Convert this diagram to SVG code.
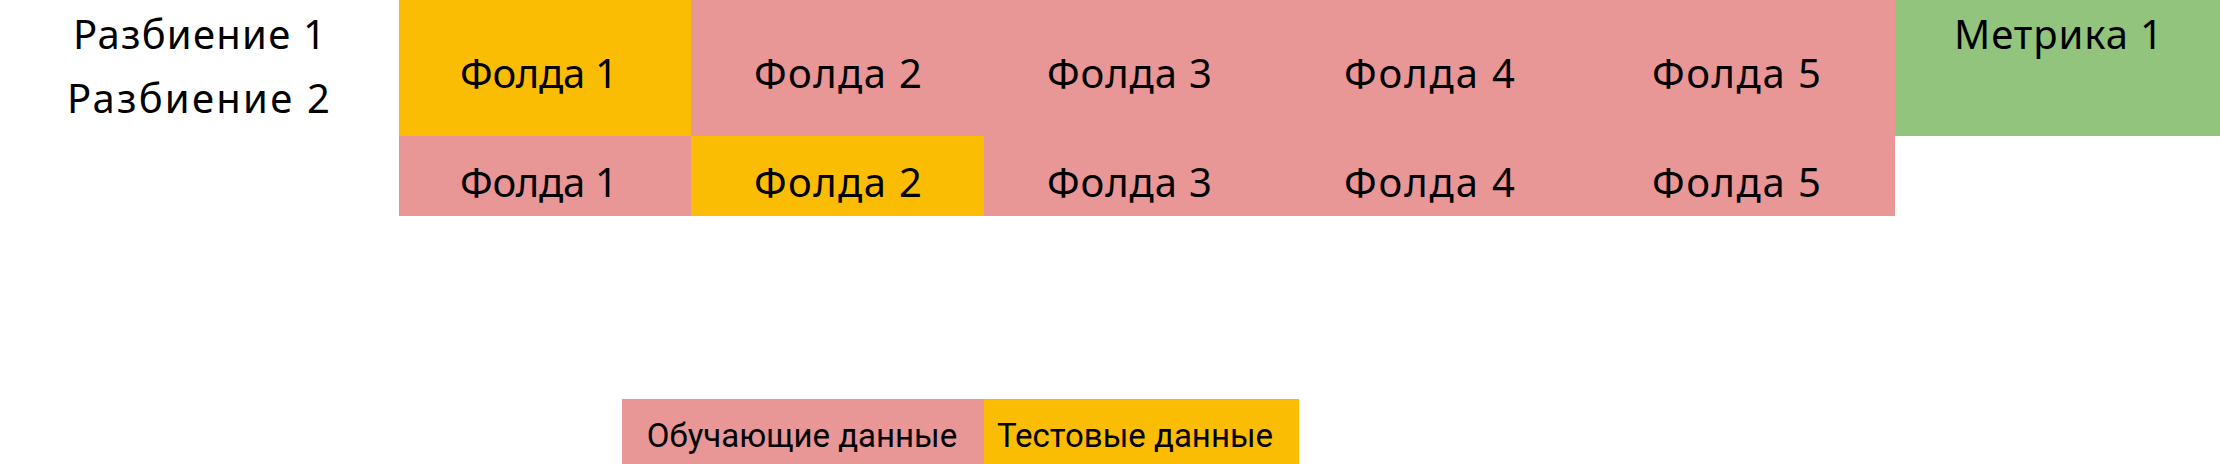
<svg xmlns="http://www.w3.org/2000/svg" width="2220" height="464" viewBox="0 0 2220 464">
  <style>
    .train { fill: #E99696; }
    .test { fill: #FBBC04; }
    .metric { fill: #93C47D; }
    .lbl { font-family: "Noto Sans", Lato, sans-serif; fill: #000; text-anchor: middle; }
    .row { font-size: 40px; }
    .fold { font-size: 40px; }
    .met { font-size: 40px; }
    .leg { font-family: Roboto, "Liberation Sans", sans-serif; font-size: 33px; fill: #000; text-anchor: middle; }
  </style>
  <rect width="2220" height="464" fill="#FFFFFF"/>
  <g id="row-labels">
    <text class="lbl row" x="199.5" y="49" textLength="253">Разбиение 1</text>
    <text class="lbl row" x="198.5" y="113" textLength="263">Разбиение 2</text>
  </g>
  <g id="split1">
    <g id="s1-fold1"><rect class="test" x="399" y="0" width="293" height="137"/><text class="lbl fold" x="539" y="88" textLength="158">Фолда 1</text></g>
    <g id="s1-fold2"><rect class="train" x="691" y="0" width="294" height="137"/><text class="lbl fold" x="838" y="88" textLength="168">Фолда 2</text></g>
    <g id="s1-fold3"><rect class="train" x="984" y="0" width="297" height="137"/><text class="lbl fold" x="1129.5" y="88" textLength="165">Фолда 3</text></g>
    <g id="s1-fold4"><rect class="train" x="1280" y="0" width="301" height="137"/><text class="lbl fold" x="1429.5" y="88" textLength="171">Фолда 4</text></g>
    <g id="s1-fold5"><rect class="train" x="1580" y="0" width="315" height="137"/><text class="lbl fold" x="1736.5" y="88" textLength="169">Фолда 5</text></g>
    <g id="metric1"><rect class="metric" x="1895" y="0" width="325" height="136"/><text class="lbl met" x="2058.5" y="49" textLength="209">Метрика 1</text></g>
  </g>
  <g id="split2">
    <g id="s2-fold1"><rect class="train" x="399" y="136" width="293" height="80"/><text class="lbl fold" x="539" y="197" textLength="158">Фолда 1</text></g>
    <g id="s2-fold2"><rect class="test" x="691" y="136" width="294" height="80"/><text class="lbl fold" x="838" y="197" textLength="168">Фолда 2</text></g>
    <g id="s2-fold3"><rect class="train" x="984" y="136" width="297" height="80"/><text class="lbl fold" x="1129.5" y="197" textLength="165">Фолда 3</text></g>
    <g id="s2-fold4"><rect class="train" x="1280" y="136" width="301" height="80"/><text class="lbl fold" x="1429.5" y="197" textLength="171">Фолда 4</text></g>
    <g id="s2-fold5"><rect class="train" x="1580" y="136" width="315" height="80"/><text class="lbl fold" x="1736.5" y="197" textLength="169">Фолда 5</text></g>
  </g>
  <g id="legend">
    <g id="legend-train"><rect class="train" x="622" y="399" width="362" height="65"/><text class="leg" x="802" y="447">Обучающие данные</text></g>
    <g id="legend-test"><rect class="test" x="984" y="399" width="315" height="65"/><text class="leg" x="1135" y="447">Тестовые данные</text></g>
  </g>
</svg>
